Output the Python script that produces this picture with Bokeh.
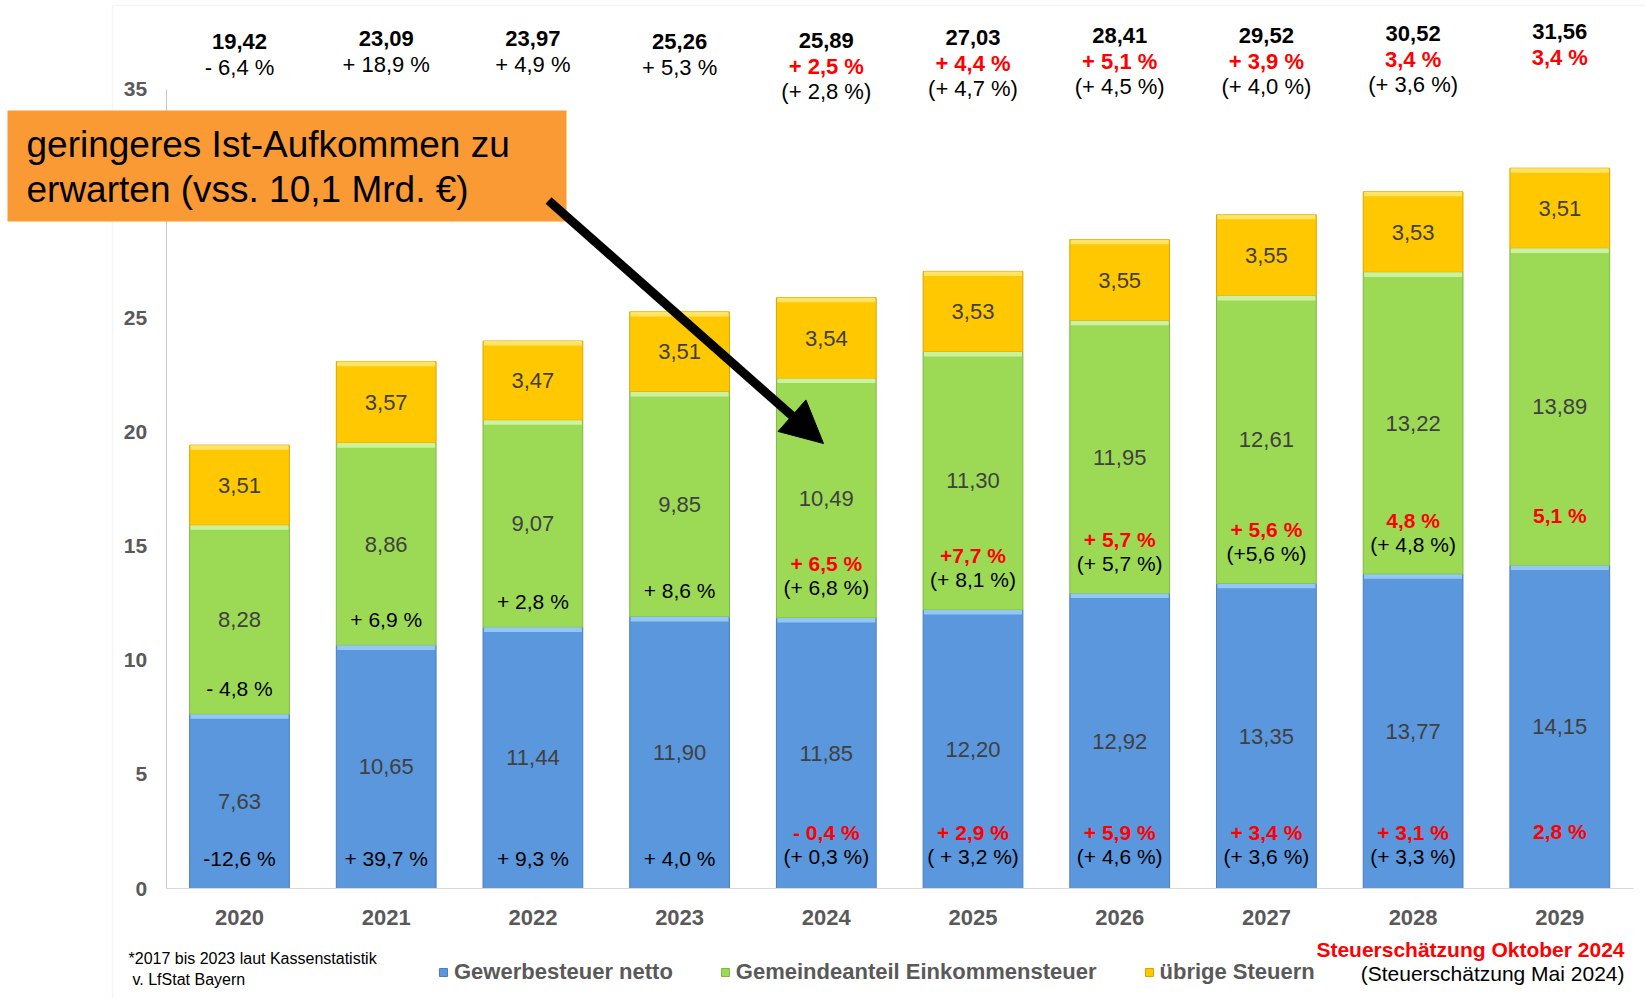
from bokeh.plotting import figure
from bokeh.models import (ColumnDataSource, Range1d, FixedTicker, Label,
                          Arrow, NormalHead, BoxAnnotation, Legend, LegendItem)
from bokeh.core.properties import value
from bokeh.embed import file_html
from bokeh.resources import INLINE

# ---------------- data ----------------
years = ["2020", "2021", "2022", "2023", "2024", "2025", "2026", "2027", "2028", "2029"]
gewerbesteuer = [7.63, 10.65, 11.44, 11.90, 11.85, 12.20, 12.92, 13.35, 13.77, 14.15]
einkommensteuer = [8.28, 8.86, 9.07, 9.85, 10.49, 11.30, 11.95, 12.61, 13.22, 13.89]
uebrige = [3.51, 3.57, 3.47, 3.51, 3.54, 3.53, 3.55, 3.55, 3.53, 3.51]
totals = [19.42, 23.09, 23.97, 25.26, 25.89, 27.03, 28.41, 29.52, 30.52, 31.56]

total_change = ["- 6,4 %", "+ 18,9 %", "+ 4,9 %", "+ 5,3 %", "+ 2,5 %", "+ 4,4 %",
                "+ 5,1 %", "+ 3,9 %", "3,4 %", "3,4 %"]
total_change_mai = ["", "", "", "", "(+ 2,8 %)", "(+ 4,7 %)", "(+ 4,5 %)", "(+ 4,0 %)",
                    "(+ 3,6 %)", ""]
ek_change = ["- 4,8 %", "+ 6,9 %", "+ 2,8 %", "+ 8,6 %", "+ 6,5 %", "+7,7 %", "+ 5,7 %",
             "+ 5,6 %", "4,8 %", "5,1 %"]
ek_change_mai = ["", "", "", "", "(+ 6,8 %)", "(+ 8,1 %)", "(+ 5,7 %)", "(+5,6 %)",
                 "(+ 4,8 %)", ""]
gw_change = ["-12,6 %", "+ 39,7 %", "+ 9,3 %", "+ 4,0 %", "- 0,4 %", "+ 2,9 %", "+ 5,9 %",
             "+ 3,4 %", "+ 3,1 %", "2,8 %"]
gw_change_mai = ["", "", "", "", "(+ 0,3 %)", "( + 3,2 %)", "(+ 4,6 %)", "(+ 3,6 %)",
                 "(+ 3,3 %)", ""]
first_forecast_year = 2024
y_ticks = [0, 5, 10, 15, 20, 25, 35]

series_names = ["Gewerbesteuer netto", "Gemeindeanteil Einkommensteuer", "übrige Steuern"]
note_lines = ["*2017 bis 2023 laut Kassenstatistik", "v. LfStat Bayern"]
source_red = "Steuerschätzung Oktober 2024"
source_black = "(Steuerschätzung Mai 2024)"
callout_lines = ["geringeres Ist-Aufkommen zu", "erwarten (vss. 10,1 Mrd. €)"]

# ---------------- style / layout ----------------
FONT = "Liberation Sans"
BLUE, BLUE_HI, BLUE_EDGE = "#5A97DD", "#93C8F4", "#4A7FBE"
GREEN, GREEN_HI, GREEN_EDGE = "#9CDA56", "#CDF29E", "#7FB843"
YELLOW, YELLOW_HI, YELLOW_EDGE = "#FFC800", "#FFE466", "#D9A600"
ORANGE = "#F99A35"
RED = "#FF0000"
AXIS_TXT = "#595959"
VAL_TXT = "#404040"

W, H = 1645, 998
X_PX = 146.7          # pixels per category step
X0_PX = 239.0         # pixel of the first category centre
Y_PX = 22.83          # pixels per unit (Mrd. €)
Y0_PX = 888.0         # pixel row of value 0
BAR_W = 0.68
BEVEL = 0.2
TOP_ANCHOR = 35.0
top_shift = [0, -3, -3, 0, -1, -4, -6, -6, -8, -10]

x_start = -X0_PX / X_PX
y_start = -(H - Y0_PX) / Y_PX

p = figure(width=W, height=H,
           x_range=Range1d(x_start, x_start + W / X_PX),
           y_range=Range1d(y_start, y_start + H / Y_PX),
           output_backend="svg", toolbar_location=None,
           min_border_left=0, min_border_right=0, min_border_top=0, min_border_bottom=0)
p.outline_line_color = None
p.xgrid.visible = False
p.ygrid.visible = False
p.background_fill_color = "white"
p.border_fill_color = "white"

# ---------------- bars ----------------
xs = list(range(len(years)))
n = len(years)
zeros = [0.0] * n
ek_bot = list(gewerbesteuer)
ek_top = [g + e for g, e in zip(gewerbesteuer, einkommensteuer)]
ue_bot = list(ek_top)
ue_top = [b + u for b, u in zip(ue_bot, uebrige)]

src = ColumnDataSource(dict(
    x=xs,
    gw_bot=zeros, gw_top=gewerbesteuer, gw_hl=[t - BEVEL for t in gewerbesteuer],
    ek_bot=ek_bot, ek_top=ek_top, ek_hl=[t - BEVEL for t in ek_top],
    ue_bot=ue_bot, ue_top=ue_top, ue_hl=[t - BEVEL for t in ue_top],
))

r_gw = p.vbar(x="x", bottom="gw_bot", top="gw_top", width=BAR_W, source=src,
              fill_color=BLUE, line_color=BLUE_EDGE, line_width=1)
r_ek = p.vbar(x="x", bottom="ek_bot", top="ek_top", width=BAR_W, source=src,
              fill_color=GREEN, line_color=GREEN_EDGE, line_width=1)
r_ue = p.vbar(x="x", bottom="ue_bot", top="ue_top", width=BAR_W, source=src,
              fill_color=YELLOW, line_color=YELLOW_EDGE, line_width=1)
for hl, top, col in (("gw_hl", "gw_top", BLUE_HI), ("ek_hl", "ek_top", GREEN_HI),
                     ("ue_hl", "ue_top", YELLOW_HI)):
    p.vbar(x="x", bottom=hl, top=top, width=BAR_W - 0.012, source=src,
           fill_color=col, line_color=None)


def fmt(v):
    return f"{v:.2f}".replace(".", ",")


def add_text(ys, texts, offs, size, color, style="normal"):
    keep = [i for i, t in enumerate(texts) if t]
    s = ColumnDataSource(dict(x=[xs[i] for i in keep], y=[ys[i] for i in keep],
                              t=[texts[i] for i in keep], dy=[offs[i] for i in keep]))
    p.text(x="x", y="y", text="t", y_offset="dy", source=s, text_align="center",
           text_baseline="middle", text_font=value(FONT), text_font_size=size,
           text_color=color, text_font_style=style)


fc = [int(y) >= first_forecast_year for y in years]

# segment values
add_text([(a + b) / 2 for a, b in zip(zeros, gewerbesteuer)],
         [fmt(v) for v in gewerbesteuer], [0] * n, "22px", VAL_TXT)
add_text([(a + b) / 2 for a, b in zip(ek_bot, ek_top)],
         [fmt(v) for v in einkommensteuer], [0] * n, "22px", VAL_TXT)
add_text([(a + b) / 2 for a, b in zip(ue_bot, ue_top)],
         [fmt(v) for v in uebrige], [0] * n, "22px", VAL_TXT)

# totals above bars
tops_y = [TOP_ANCHOR] * n
add_text(tops_y, [fmt(v) for v in totals], [-48 + s for s in top_shift],
         "22px", "black", "bold")
add_text(tops_y, [t if not f else "" for t, f in zip(total_change, fc)],
         [-22 + s for s in top_shift], "22px", "black")
add_text(tops_y, [t if f else "" for t, f in zip(total_change, fc)],
         [-22 + s for s in top_shift], "22px", RED, "bold")
add_text(tops_y, total_change_mai, [3 + s for s in top_shift], "22px", "black")

# Einkommensteuer changes (near bottom of green segment)
add_text(ek_bot, [t if not f else "" for t, f in zip(ek_change, fc)],
         [-26] * n, "21px", "black")
add_text(ek_bot, [t if f else "" for t, f in zip(ek_change, fc)],
         [-54 if m else -50 for m in ek_change_mai], "21px", RED, "bold")
add_text(ek_bot, ek_change_mai, [-30] * n, "21px", "black")

# Gewerbesteuer changes (near bottom of blue segment)
add_text(zeros, [t if not f else "" for t, f in zip(gw_change, fc)],
         [-30] * n, "21px", "black")
add_text(zeros, [t if f else "" for t, f in zip(gw_change, fc)],
         [-56 if m else -57 for m in gw_change_mai], "21px", RED, "bold")
add_text(zeros, gw_change_mai, [-32] * n, "21px", "black")

# ---------------- axes (drawn at fixed positions inside the full-size frame) ----------------
xa, ya = p.xaxis[0], p.yaxis[0]
ya.ticker = FixedTicker(ticks=y_ticks)
ya.bounds = (0, 35)
ya.fixed_location = -0.5
xa.ticker = FixedTicker(ticks=xs)
xa.major_label_overrides = {i: y for i, y in zip(xs, years)}
xa.bounds = (-0.5, len(years) - 0.5)
xa.fixed_location = 0
for ax in (xa, ya):
    ax.major_tick_line_color = None
    ax.minor_tick_line_color = None
    ax.major_tick_out = 0
    ax.major_tick_in = 0
    ax.minor_tick_out = 0
    ax.minor_tick_in = 0
    ax.major_label_text_font = FONT
    ax.major_label_text_font_style = "bold"
    ax.major_label_text_color = AXIS_TXT
ya.axis_line_color = "#C8C8C8"
ya.major_label_text_font_size = "21px"
ya.major_label_standoff = 19
xa.axis_line_color = "#D9D9D9"
xa.major_label_text_font_size = "22px"
xa.major_label_standoff = 21


# ---------------- annotations (screen units; frame == whole canvas) ----------------
def SY(y):
    return H - y


# light frame lines of the slide
p.add_layout(BoxAnnotation(left=112, right=W + 50, top=SY(5), bottom=-50,
                           left_units="screen", right_units="screen",
                           top_units="screen", bottom_units="screen",
                           fill_alpha=0, line_color="#D9D9D9", line_width=1.5))

# orange callout
p.add_layout(BoxAnnotation(left=7, right=566, top=SY(110), bottom=SY(221),
                           left_units="screen", right_units="screen",
                           top_units="screen", bottom_units="screen",
                           fill_color=ORANGE, fill_alpha=1, line_color=None))
for line, yy in zip(callout_lines, (144, 189)):
    p.add_layout(Label(x=26, y=SY(yy), x_units="screen", y_units="screen", text=line,
                       text_font=FONT, text_font_size="37px", text_color="black",
                       text_baseline="middle", text_align="left"))

p.add_layout(Arrow(x_start=548, y_start=SY(200), x_end=823, y_end=SY(443),
                   start_units="screen", end_units="screen",
                   line_width=9, line_color="black",
                   end=NormalHead(size=42, fill_color="black", line_color="black")))

# footnote
p.add_layout(Label(x=128, y=SY(958), x_units="screen", y_units="screen", text=note_lines[0],
                   text_font=FONT, text_font_size="16px", text_color="black",
                   text_baseline="middle"))
p.add_layout(Label(x=132, y=SY(979), x_units="screen", y_units="screen", text=note_lines[1],
                   text_font=FONT, text_font_size="16px", text_color="black",
                   text_baseline="middle"))

# source notes (right)
p.add_layout(Label(x=1624, y=SY(949), x_units="screen", y_units="screen", text=source_red,
                   text_font=FONT, text_font_size="21px", text_font_style="bold",
                   text_color=RED, text_baseline="middle", text_align="right"))
p.add_layout(Label(x=1624, y=SY(973), x_units="screen", y_units="screen", text=source_black,
                   text_font=FONT, text_font_size="21px", text_color="black",
                   text_baseline="middle", text_align="right"))

# legend
legend = Legend(items=[LegendItem(label=series_names[0], renderers=[r_gw]),
                       LegendItem(label=series_names[1], renderers=[r_ek]),
                       LegendItem(label=series_names[2], renderers=[r_ue])],
                location=(438, SY(985)), orientation="horizontal",
                glyph_width=10, glyph_height=10, label_standoff=6, spacing=47,
                padding=0, margin=0, border_line_color=None, background_fill_alpha=0,
                label_text_font=FONT, label_text_font_size="22px",
                label_text_font_style="bold", label_text_color=AXIS_TXT)
p.add_layout(legend)

open("out.html", "w").write(file_html(p, INLINE))
